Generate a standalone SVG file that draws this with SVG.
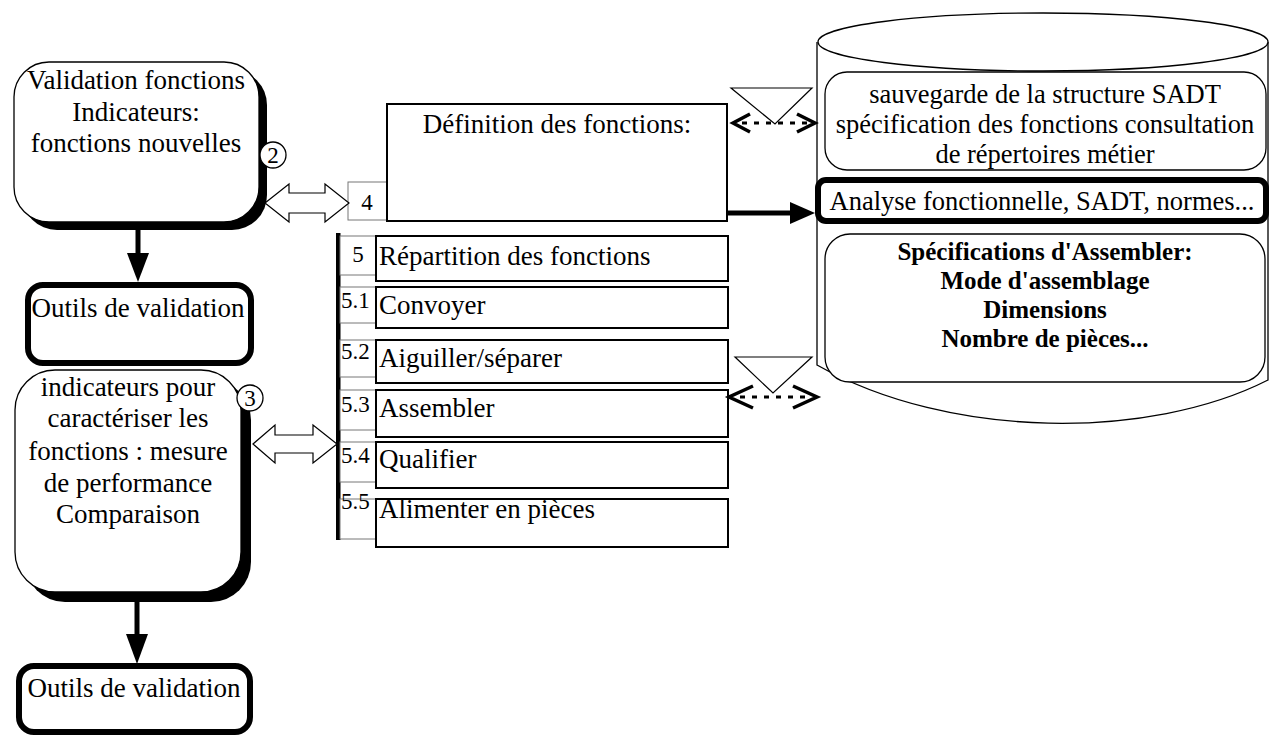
<svg xmlns="http://www.w3.org/2000/svg" width="1270" height="742" viewBox="0 0 1270 742">
<style>
.t{font-family:"Liberation Serif","Times New Roman",serif;font-size:27px;fill:#000}
.s{font-size:26.5px}
.b{font-weight:bold;font-size:25px}
.n{font-size:23px}
.c{text-anchor:middle}
.thin{fill:#fff;stroke:#000;stroke-width:1.3}
.gray{fill:#fff;stroke:#777;stroke-width:1}
.thick{fill:#fff;stroke:#000;stroke-width:6}
.row{fill:#fff;stroke:#000;stroke-width:2}
.hollow{fill:#fff;stroke:#000;stroke-width:1.2}
.solid{stroke:#000;stroke-width:5;fill:none}
.chev{fill:none;stroke:#000;stroke-width:3.5}
.dash{fill:none;stroke:#000;stroke-width:3;stroke-dasharray:5 7}
.tri{fill:none;stroke:#000;stroke-width:1.2}
</style>
<rect width="1270" height="742" fill="#fff"/>

<g id="cylinder">
  <path d="M817,42 L817,365 C950,440 1150,440 1268,380 L1268,42" class="thin" fill="#fff"/>
  <ellipse cx="1043" cy="42" rx="225" ry="29" class="thin"/>
</g>

<g id="sauvegarde">
  <rect x="825" y="72" width="441" height="98" rx="22" class="thin"/>
  <text class="t s c" x="1045" y="103">sauvegarde de la structure SADT</text>
  <text class="t s c" x="1045" y="133">spécification des fonctions consultation</text>
  <text class="t s c" x="1045" y="163">de répertoires métier</text>
</g>

<g id="analyse">
  <rect x="818" y="180" width="448" height="41" rx="8" class="thick" stroke-width="5"/>
  <text class="t s c" x="1042" y="210">Analyse fonctionnelle, SADT, normes...</text>
</g>

<g id="specs">
  <rect x="825" y="234" width="440" height="148" rx="25" class="thin"/>
  <text class="t b c" x="1045" y="260">Spécifications d'Assembler:</text>
  <text class="t b c" x="1045" y="289">Mode d'assemblage</text>
  <text class="t b c" x="1045" y="318">Dimensions</text>
  <text class="t b c" x="1045" y="347">Nombre de pièces...</text>
</g>

<g id="validation-fonctions">
  <rect x="22" y="70" width="245" height="160" rx="35" fill="#000"/>
  <rect x="14" y="62" width="245" height="160" rx="35" class="thin"/>
  <text class="t c" x="136" y="89">Validation fonctions</text>
  <text class="t c" x="136" y="121">Indicateurs:</text>
  <text class="t c" x="136" y="152">fonctions nouvelles</text>
</g>
<g id="circle2">
  <circle cx="273" cy="155" r="13" class="thin"/>
  <text class="t n c" x="273" y="163">2</text>
</g>

<g id="outils1">
  <rect x="28" y="285" width="223" height="78" rx="15" class="thick"/>
  <text class="t c" x="138" y="317">Outils de validation</text>
</g>

<g id="indicateurs">
  <rect x="25" y="380" width="226" height="222" rx="40" fill="#000"/>
  <rect x="15" y="370" width="226" height="222" rx="40" class="thin"/>
  <text class="t c" x="128" y="396">indicateurs pour</text>
  <text class="t c" x="128" y="427">caractériser les</text>
  <text class="t c" x="128" y="460">fonctions : mesure</text>
  <text class="t c" x="128" y="492">de performance</text>
  <text class="t c" x="128" y="523">Comparaison</text>
</g>
<g id="circle3">
  <circle cx="250" cy="398" r="13" class="thin"/>
  <text class="t n c" x="250" y="406">3</text>
</g>

<g id="outils2">
  <rect x="19" y="666" width="231" height="66" rx="15" class="thick"/>
  <text class="t c" x="134" y="697">Outils de validation</text>
</g>

<g id="box4">
  <rect x="348" y="182" width="39" height="38" class="gray"/>
  <text class="t n c" x="367" y="210">4</text>
</g>

<g id="definition">
  <rect x="387" y="104" width="340" height="117" class="row"/>
  <text class="t c" x="557" y="133">Définition des fonctions:</text>
</g>

<g id="repartition">
  <rect x="336" y="233" width="4.5" height="307" fill="#000"/>
  <g id="row5">
    <rect x="340" y="236" width="36" height="39" class="gray"/>
    <rect x="376" y="236" width="352" height="45" class="row"/>
    <text class="t n c" x="358" y="262">5</text>
    <text class="t" x="379" y="265">Répartition des fonctions</text>
  </g>
  <g id="row51">
    <rect x="340" y="287" width="36" height="36" class="gray"/>
    <rect x="376" y="287" width="352" height="41" class="row"/>
    <text class="t n" x="341" y="308">5.1</text>
    <text class="t" x="379" y="314">Convoyer</text>
  </g>
  <g id="row52">
    <rect x="340" y="340" width="36" height="37" class="gray"/>
    <rect x="376" y="340" width="352" height="43" class="row"/>
    <text class="t n" x="341" y="359">5.2</text>
    <text class="t" x="379" y="367">Aiguiller/séparer</text>
  </g>
  <g id="row53">
    <rect x="340" y="390" width="36" height="40" class="gray"/>
    <rect x="376" y="390" width="352" height="47" class="row"/>
    <text class="t n" x="341" y="412">5.3</text>
    <text class="t" x="379" y="417">Assembler</text>
  </g>
  <g id="row54">
    <rect x="340" y="442" width="36" height="40" class="gray"/>
    <rect x="376" y="442" width="352" height="46" class="row"/>
    <text class="t n" x="341" y="463">5.4</text>
    <text class="t" x="379" y="468">Qualifier</text>
  </g>
  <g id="row55">
    <rect x="340" y="499" width="36" height="40" class="gray"/>
    <rect x="376" y="499" width="352" height="48" class="row"/>
    <text class="t n" x="341" y="509">5.5</text>
    <text class="t" x="379" y="518">Alimenter en pièces</text>
  </g>
</g>

<g id="connectors">
  <polygon class="hollow" points="265,203 289,184 289,193 325,193 325,184 349,203 325,222 325,213 289,213 289,222"/>
  <polygon class="hollow" points="253,444 275,425 275,435 313,435 313,425 337,444 313,463 313,453 275,453 275,463"/>
  <line class="solid" x1="727" y1="213" x2="795" y2="213"/>
  <polygon points="790,202 815,213 790,224" fill="#000"/>
  <line class="solid" x1="138" y1="230" x2="138" y2="258"/>
  <polygon points="127,253 149,253 138,282" fill="#000"/>
  <line class="solid" x1="137" y1="602" x2="137" y2="637"/>
  <polygon points="126,634 148,634 137,664" fill="#000"/>
  <polygon class="tri" points="731,88 812,88 775,124"/>
  <polyline class="chev" points="750,114 733,123 750,132"/>
  <polyline class="chev" points="797,114 815,123 797,132"/>
  <line class="dash" x1="742" y1="123" x2="808" y2="123"/>
  <polygon class="tri" points="735,357 812,357 773,393"/>
  <polyline class="chev" points="753,386 729,397 753,408"/>
  <polyline class="chev" points="793,386 817,397 793,408"/>
  <line class="dash" x1="740" y1="397" x2="808" y2="397"/>
</g>
</svg>
